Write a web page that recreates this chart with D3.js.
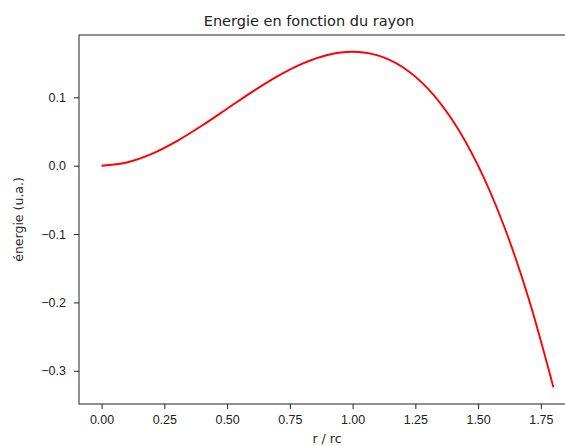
<!DOCTYPE html>
<html>
<head>
<meta charset="utf-8">
<script src="https://cdn.jsdelivr.net/npm/d3@7"></script>
<style>
  body { margin: 0; background: #fff; }
  svg { display: block; font-family: "DejaVu Sans", sans-serif; }
  .tick text { font-size: 12.5px; fill: #222; }
  .tick line { stroke: #222; }
</style>
</head>
<body>
<svg id="chart" width="565" height="446"></svg>
<script>
// values (r / rc against energy)
var radius = [0, 0.1, 0.2, 0.3, 0.4, 0.5, 0.6, 0.7, 0.8, 0.9, 1.0,
              1.1, 1.2, 1.3, 1.4, 1.5, 1.6, 1.7, 1.8];
var energy = [0, 0.0047, 0.0173, 0.036, 0.0587, 0.0833, 0.108, 0.1307,
              0.1493, 0.162, 0.1667, 0.1613, 0.144, 0.1127, 0.0653, 0,
              -0.0853, -0.1927, -0.324];
var xTicks = [0, 0.25, 0.5, 0.75, 1.0, 1.25, 1.5, 1.75];
var yTicks = [-0.3, -0.2, -0.1, 0.0, 0.1];

// plot box (window.top is reserved, so use other names)
var svg = d3.select("#chart")
  , boxLeft = 79, boxRight = 576, boxTop = 35, boxBottom = 404
  , x = d3.scaleLinear().domain([-0.09, 1.89]).range([boxLeft, boxRight])
  , y = d3.scaleLinear().domain([-0.3486, 0.1912]).range([boxBottom, boxTop])
;

// x axis
svg.append("g")
    .attr("transform", "translate(0," + boxBottom + ")")
    .call(d3.axisBottom(x).tickValues(xTicks).tickFormat(d3.format(".2f"))
      .tickSize(5).tickPadding(4))
  .call(function(g) { g.select(".domain").remove(); })
  .selectAll(".tick text").attr("dy", "0.85em");

// y axis
svg.append("g")
    .attr("transform", "translate(" + boxLeft + ",0)")
    .call(d3.axisLeft(y).tickValues(yTicks).tickFormat(d3.format(".1f"))
      .tickSize(5).tickPadding(8))
  .call(function(g) { g.select(".domain").remove(); });

// the curve
var line = d3.line()
    .x(function(d, i) { return x(radius[i]); })
    .y(function(d) { return y(d); })
    .curve(d3.curveCatmullRom.alpha(0.5))
;
svg.append("path")
    .datum(energy)
    .attr("d", line)
    .attr("fill", "none")
    .attr("stroke", "#ff0000")
    .attr("stroke-width", 1.9);

// frame
svg.append("rect")
    .attr("x", boxLeft).attr("y", boxTop)
    .attr("width", boxRight - boxLeft).attr("height", boxBottom - boxTop)
    .attr("fill", "none")
    .attr("stroke", "#222")
    .attr("stroke-width", 1);

// texts
svg.append("text")
    .attr("x", 309).attr("y", 26)
    .attr("text-anchor", "middle")
    .style("font-size", "14.5px")
    .attr("fill", "#222")
    .text("Energie en fonction du rayon");

svg.append("text")
    .attr("x", 327).attr("y", 443)
    .attr("text-anchor", "middle")
    .style("font-size", "12.5px")
    .attr("fill", "#222")
    .text("r / rc");

svg.append("text")
    .attr("transform", "translate(23," + ((boxTop + boxBottom) / 2) + ") rotate(-90)")
    .attr("text-anchor", "middle")
    .style("font-size", "12.5px")
    .attr("fill", "#222")
    .text("énergie (u.a.)");
</script>
</body>
</html>
